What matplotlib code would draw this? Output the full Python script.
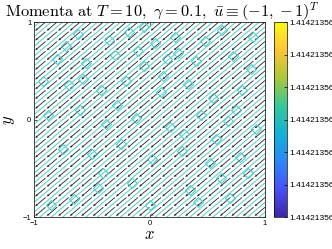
import numpy as np
import matplotlib.pyplot as plt
from matplotlib.colors import LinearSegmentedColormap, Normalize
from matplotlib.cm import ScalarMappable

plt.rcParams['mathtext.fontset'] = 'cm'
plt.rcParams['font.family'] = ['Liberation Sans', 'DejaVu Sans']

# grille des fleches (momenta constants)
grid = np.linspace(-1, 1, 21)
u_bar = -1.0
v_bar = -1.0
arrow_len = 0.09

# decalages des trajectoires cyan (y = x + c)
traj_c = [-1.95, -1.85, -1.75, -1.65, -1.55, -1.45, -1.35, -1.25, -1.15, -1.05,
          -0.95, -0.85, -0.75, -0.65, -0.55, -0.45, -0.35, -0.25, -0.15, -0.05,
          0.05, 0.15, 0.25, 0.35, 0.45, 0.55, 0.65, 0.75, 0.85, 0.95,
          1.05, 1.15, 1.25, 1.35, 1.45, 1.55, 1.65, 1.75, 1.85, 1.95]

# boucles cyan
loop_x = [-0.62, -0.35, -0.18, 0.05, 0.22, 0.48, 0.63, -0.80, -0.55, -0.30,
          -0.05, 0.15, 0.40, 0.72, 0.88, -0.70, -0.42, -0.20, 0.10, 0.33,
          0.55, 0.80, -0.88, -0.60, -0.38, -0.12, 0.18, 0.45, 0.68, -0.75,
          -0.50, -0.25, 0.02, 0.28, 0.52, 0.78, -0.45, -0.15, 0.35, 0.62,
          -0.85, -0.65, 0.92, 0.75, -0.05, 0.30, -0.72, -0.28, 0.12, 0.58,
          0.85, -0.92, -0.40, 0.00, 0.42, 0.70, -0.58, -0.10, 0.25, 0.90]
loop_y = [0.88, 0.82, 0.90, 0.78, 0.85, 0.80, 0.92, 0.62, 0.58, 0.66,
          0.55, 0.62, 0.60, 0.65, 0.52, 0.35, 0.30, 0.40, 0.28, 0.36,
          0.22, 0.30, 0.05, 0.10, -0.05, 0.02, -0.08, 0.05, -0.02, -0.30,
          -0.35, -0.25, -0.40, -0.32, -0.45, -0.38, -0.70, -0.65, -0.72, -0.60,
          -0.88, -0.82, -0.10, 0.10, 0.95, -0.15, 0.75, 0.15, 0.45, -0.20,
          -0.55, 0.40, -0.55, -0.88, -0.85, -0.80, 0.42, 0.70, 0.68, 0.85]

cbar_ticks = [0, 1, 2, 3, 4, 5, 6]
cbar_labels = ['1.414213562'] * 7

parula = LinearSegmentedColormap.from_list('parula', [
    (0.2422, 0.1504, 0.6603), (0.2810, 0.3228, 0.9579), (0.1786, 0.5289, 0.9682),
    (0.0689, 0.6948, 0.8394), (0.2161, 0.7843, 0.5923), (0.6720, 0.7793, 0.2227),
    (0.9970, 0.7659, 0.2199), (0.9769, 0.9839, 0.0805)])

fig = plt.figure(figsize=(3.32, 2.49), dpi=100)
ax = fig.add_axes([34 / 332, 32 / 249, 231 / 332, 195 / 249])

cyan = '#50cccc'
xx = np.array([-1.0, 1.0])
for c in traj_c:
    ax.plot(xx, xx + c, color=cyan, lw=0.7)
ax.plot(loop_x, loop_y, 'D', ms=5, mfc='none', mec=cyan, mew=0.8)

X, Y = np.meshgrid(grid, grid)
U = np.full_like(X, u_bar) * arrow_len
V = np.full_like(Y, v_bar) * arrow_len
ax.quiver(X, Y, U, V, angles='xy', scale_units='xy', scale=1, color='#1a1a1a',
          width=0.0035, headwidth=3, headlength=3.5, headaxislength=3)

ax.set_xlim(-1, 1)
ax.set_ylim(-1, 1)
ax.set_xticks([-1, 0, 1])
ax.set_yticks([-1, 0, 1])
ax.tick_params(direction='in', labelsize=5.5, length=2, width=0.5, pad=2,
               top=True, right=True)
for s in ax.spines.values():
    s.set_linewidth(0.6)
    s.set_color('#262626')
ax.set_xlabel('$x$', fontsize=12, labelpad=0)
ax.set_ylabel('$y$', fontsize=12, labelpad=4)
ax.set_title(r'$\mathrm{Momenta\ at\ }T=10,\ \gamma=0.1,\ \bar{u}\equiv(-1,-1)^T$',
             fontsize=11.8, pad=4, x=0.555)

cax = fig.add_axes([274 / 332, 32 / 249, 13 / 332, 195 / 249])
sm = ScalarMappable(norm=Normalize(0, 6), cmap=parula)
cb = fig.colorbar(sm, cax=cax, ticks=cbar_ticks)
cb.ax.set_yticklabels(cbar_labels)
cb.ax.tick_params(labelsize=6, length=2, width=0.5, direction='in', pad=1.5)
cb.outline.set_linewidth(0.5)

plt.savefig('out.png', dpi=100)
